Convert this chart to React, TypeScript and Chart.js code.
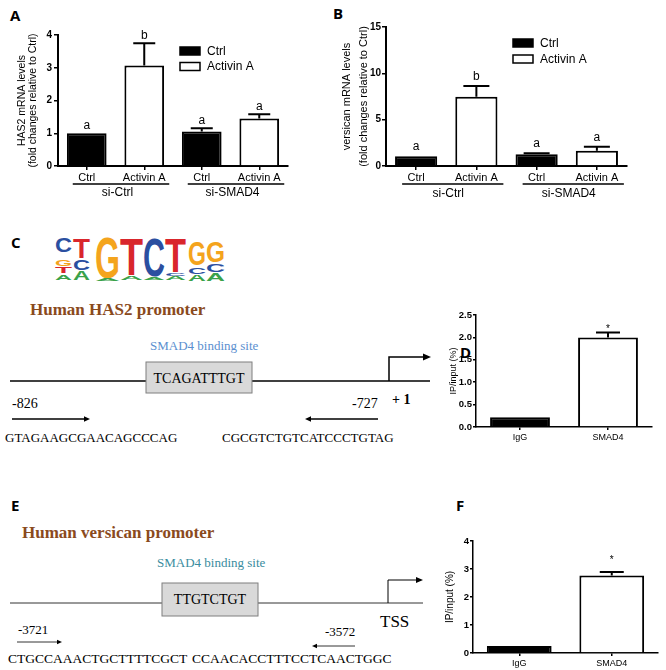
import React, { useEffect, useRef } from 'react';
import { Chart, registerables } from 'chart.js';

Chart.register(...registerables);

const SANS = '"Liberation Sans", Arial, Helvetica, sans-serif';
const SERIF = '"Liberation Serif", "Times New Roman", serif';
const HEAD = '"Open Sans", "Liberation Sans", Arial, sans-serif';

// ---------- Panels A / B : qPCR ----------
const treatmentLabels = ['Ctrl', 'Activin A', 'Ctrl', 'Activin A'];
const sirnaGroups = ['si-Ctrl', 'si-SMAD4'];
const seriesNames = ['Ctrl', 'Activin A'];

const has2Ctrl = [1.0, null, 1.05, null];
const has2Activin = [null, 3.07, null, 1.45];
const has2Err = [0, 0.68, 0.1, 0.13];
const has2Letters = ['a', 'b', 'a', 'a'];
const has2Ticks = [0, 1, 2, 3, 4];

const versicanCtrl = [1.05, null, 1.26, null];
const versicanActivin = [null, 7.48, null, 1.65];
const versicanErr = [0, 1.15, 0.11, 0.44];
const versicanLetters = ['a', 'b', 'a', 'a'];
const versicanTicks = [0, 5, 10, 15];

// ---------- Panels D / F : ChIP ----------
const chipLabels = ['IgG', 'SMAD4'];
const has2Chip = [0.22, 2.0];
const has2ChipErr = [0, 0.11];
const has2ChipMarks = ['', '*'];
const has2ChipTicks = [0, 0.5, 1.0, 1.5, 2.0, 2.5];

const versicanChip = [0.25, 2.77];
const versicanChipErr = [0, 0.12];
const versicanChipMarks = ['', '*'];
const versicanChipTicks = [0, 1, 2, 3, 4];

type DS = { label: string; data: (number | null)[]; fill: string | string[] };
type Panel = {
  left: number; top: number; width: number; height: number;
  area: { left: number; top: number; right: number; bottom: number };
  labels: string[];
  datasets: DS[];
  errors: number[]; marks: string[];
  ticks: number[]; decimals: number;
  yTitle: string[]; titleSize: number; titleLine: number; titlePad: number;
  yTickFont: number; xTickFont: number; tickLen: number; xTickPad: number; yTickPad: number;
  barPct: number; capWidth: number; markFont: number; markGap: number; barBorder: number; axisWidth: number;
  legend?: { x: number; y: number; dy: number; font: number };
  groups?: { names: string[]; lineY: number; textY: number; from: number; to: number; font: number };
};

const panelA: Panel = {
  left: 0, top: 0, width: 333, height: 200,
  area: { left: 58, top: 35, right: 288, bottom: 166 },
  labels: treatmentLabels,
  datasets: [
    { label: seriesNames[0], data: has2Ctrl, fill: '#000000' },
    { label: seriesNames[1], data: has2Activin, fill: '#ffffff' },
  ],
  errors: has2Err, marks: has2Letters, ticks: has2Ticks, decimals: 0,
  yTitle: ['HAS2 mRNA levels', '(fold changes relative to Ctrl)'], titleSize: 10.5, titleLine: 1.0, titlePad: 17,
  yTickFont: 10, xTickFont: 11, tickLen: 4, xTickPad: 1, yTickPad: 2,
  barPct: 0.69, capWidth: 22, markFont: 12, markGap: 4, barBorder: 2, axisWidth: 2,
  legend: { x: 180, y: 47, dy: 15.5, font: 12 },
  groups: { names: sirnaGroups, lineY: 184, textY: 193, from: -14, to: 25, font: 12 },
};

const panelB: Panel = {
  left: 333, top: 0, width: 333, height: 200,
  area: { left: 53, top: 27, right: 294, bottom: 166 },
  labels: treatmentLabels,
  datasets: [
    { label: seriesNames[0], data: versicanCtrl, fill: '#000000' },
    { label: seriesNames[1], data: versicanActivin, fill: '#ffffff' },
  ],
  errors: versicanErr, marks: versicanLetters, ticks: versicanTicks, decimals: 0,
  yTitle: ['versican mRNA levels', '(fold changes relative to Ctrl)'], titleSize: 11, titleLine: 1.5, titlePad: 6,
  yTickFont: 10, xTickFont: 11, tickLen: 4, xTickPad: 1, yTickPad: 1,
  barPct: 0.7, capWidth: 26, markFont: 12, markGap: 6, barBorder: 2, axisWidth: 2,
  legend: { x: 180, y: 39, dy: 16, font: 12 },
  groups: { names: sirnaGroups, lineY: 184, textY: 194, from: -14, to: 27, font: 12 },
};

const panelD: Panel = {
  left: 440, top: 290, width: 226, height: 160,
  area: { left: 36, top: 25, right: 212, bottom: 137 },
  labels: chipLabels,
  datasets: [{ label: 'IP/input', data: has2Chip, fill: ['#000000', '#ffffff'] }],
  errors: has2ChipErr, marks: has2ChipMarks, ticks: has2ChipTicks, decimals: 1,
  yTitle: ['IP/input (%)'], titleSize: 9, titleLine: 1.2, titlePad: 8,
  yTickFont: 9.5, xTickFont: 9, tickLen: 3, xTickPad: 2, yTickPad: 1,
  barPct: 0.68, capWidth: 24, markFont: 10, markGap: 0, barBorder: 2, axisWidth: 1.5,
};

const panelF: Panel = {
  left: 440, top: 500, width: 226, height: 170,
  area: { left: 33, top: 41, right: 218, bottom: 153 },
  labels: chipLabels,
  datasets: [{ label: 'IP/input', data: versicanChip, fill: ['#000000', '#ffffff'] }],
  errors: versicanChipErr, marks: versicanChipMarks, ticks: versicanChipTicks, decimals: 0,
  yTitle: ['IP/input (%)'], titleSize: 10, titleLine: 1.2, titlePad: 4,
  yTickFont: 9.5, xTickFont: 9, tickLen: 3, xTickPad: 2, yTickPad: 1,
  barPct: 0.7, capWidth: 24, markFont: 10, markGap: 9, barBorder: 2, axisWidth: 1.5,
};

function buildChart(canvas: HTMLCanvasElement, p: Panel) {
  const valueAt = (i: number) => {
    for (const d of p.datasets) if (d.data[i] != null) return d.data[i] as number;
    return 0;
  };
  const extras = {
    id: 'panelExtras',
    afterDraw(chart: any) {
      const { ctx } = chart;
      const x = chart.scales.x;
      const y = chart.scales.y;
      ctx.save();
      ctx.strokeStyle = '#000';
      ctx.fillStyle = '#000';
      p.labels.forEach((_, i) => {
        const v = valueAt(i);
        const e = p.errors[i] || 0;
        const cx = x.getPixelForValue(i);
        const yv = y.getPixelForValue(v);
        const ye = y.getPixelForValue(v + e);
        if (e > 0) {
          ctx.lineWidth = 2;
          ctx.beginPath();
          ctx.moveTo(cx, yv);
          ctx.lineTo(cx, ye);
          ctx.moveTo(cx - p.capWidth / 2, ye);
          ctx.lineTo(cx + p.capWidth / 2, ye);
          ctx.stroke();
        }
        const m = p.marks[i];
        if (m) {
          ctx.font = `${p.markFont}px ${SANS}`;
          ctx.textAlign = 'center';
          ctx.textBaseline = 'alphabetic';
          ctx.fillText(m, cx, ye - p.markGap);
        }
      });
      if (p.groups) {
        const g = p.groups;
        g.names.forEach((name, k) => {
          const c0 = x.getPixelForValue(2 * k);
          const c1 = x.getPixelForValue(2 * k + 1);
          ctx.lineWidth = 1.5;
          ctx.beginPath();
          ctx.moveTo(c0 + g.from, g.lineY);
          ctx.lineTo(c1 + g.to, g.lineY);
          ctx.stroke();
          ctx.font = `${g.font}px ${SANS}`;
          ctx.textAlign = 'center';
          ctx.textBaseline = 'middle';
          ctx.fillText(name, (c0 + c1) / 2 + 2, g.textY);
        });
      }
      if (p.legend) {
        const L = p.legend;
        p.datasets.forEach((d, k) => {
          const yy = L.y + k * L.dy;
          ctx.fillStyle = d.fill as string;
          ctx.fillRect(L.x, yy, 20, 8);
          ctx.lineWidth = 1.5;
          ctx.strokeStyle = '#000';
          ctx.strokeRect(L.x, yy, 20, 8);
          ctx.fillStyle = '#000';
          ctx.font = `${L.font}px ${SANS}`;
          ctx.textAlign = 'left';
          ctx.textBaseline = 'middle';
          ctx.fillText(d.label, L.x + 27, yy + 4.5);
        });
      }
      ctx.restore();
    },
  };

  const xHeight = p.height - p.area.bottom;
  return new Chart(canvas, {
    type: 'bar',
    data: {
      labels: p.labels,
      datasets: p.datasets.map((d) => ({
        label: d.label,
        data: d.data,
        backgroundColor: d.fill,
        borderColor: '#000',
        borderWidth: p.barBorder,
        borderSkipped: 'start',
        grouped: false,
        barPercentage: p.barPct,
        categoryPercentage: 1,
      })) as any,
    },
    options: {
      animation: false,
      responsive: false,
      maintainAspectRatio: false,
      devicePixelRatio: 1,
      events: [],
      layout: {
        padding: { left: 0, top: p.area.top, right: p.width - p.area.right, bottom: 0 },
      },
      plugins: { legend: { display: false }, tooltip: { enabled: false }, title: { display: false } },
      scales: {
        x: {
          type: 'category',
          offset: true,
          grid: {
            display: true, offset: false, drawOnChartArea: false, drawTicks: true,
            tickLength: p.tickLen, color: '#000', lineWidth: 1.5,
          },
          border: { display: true, color: '#000', width: p.axisWidth },
          ticks: {
            color: '#000', padding: p.xTickPad, maxRotation: 0, autoSkip: false,
            font: { family: SANS, size: p.xTickFont },
          },
          afterFit: (s: any) => { s.height = xHeight; },
        },
        y: {
          type: 'linear',
          min: p.ticks[0],
          max: p.ticks[p.ticks.length - 1],
          grid: {
            display: true, drawOnChartArea: false, drawTicks: true,
            tickLength: p.tickLen, color: '#000', lineWidth: 1.5,
          },
          border: { display: true, color: '#000', width: p.axisWidth },
          ticks: {
            color: '#000', padding: p.yTickPad,
            font: { family: SANS, size: p.yTickFont, weight: 'bold' },
            callback: (v: any) => Number(v).toFixed(p.decimals),
          },
          afterBuildTicks: (s: any) => { s.ticks = p.ticks.map((v) => ({ value: v })); },
          title: {
            display: true, text: p.yTitle, color: '#000',
            font: { family: SANS, size: p.titleSize, lineHeight: p.titleLine },
            padding: { top: p.titlePad, bottom: 0 },
          },
          afterFit: (s: any) => { s.width = p.area.left; },
        },
      },
    } as any,
    plugins: [extras],
  });
}

function BarPanel({ panel }: { panel: Panel }) {
  const ref = useRef<HTMLCanvasElement | null>(null);
  useEffect(() => {
    const chart = buildChart(ref.current as HTMLCanvasElement, panel);
    return () => chart.destroy();
  }, [panel]);
  return (
    <canvas
      ref={ref}
      width={panel.width}
      height={panel.height}
      style={{ position: 'absolute', left: panel.left, top: panel.top, width: panel.width, height: panel.height, display: 'block' }}
    />
  );
}

// ---------- Sequence logo (panel C) ----------
const LOGO_COLORS: Record<string, string> = { A: '#3aa24a', C: '#2b4fa0', G: '#f4a41d', T: '#d9262c' };
const logoColumns: { x: number; w: number; stack: [string, number, number][] }[] = [
  { x: 55, w: 17, stack: [['C', 238, 252], ['G', 259, 266], ['T', 266, 273], ['A', 275, 280]] },
  { x: 73, w: 17, stack: [['T', 238, 258], ['C', 259, 270], ['A', 271, 280]] },
  { x: 95, w: 25, stack: [['G', 237, 278], ['A', 278, 281]] },
  { x: 120, w: 23, stack: [['T', 238, 275], ['A', 276, 280]] },
  { x: 143, w: 22, stack: [['C', 238, 276], ['A', 277, 280]] },
  { x: 165, w: 21, stack: [['T', 238, 272], ['C', 273, 276], ['A', 276, 280]] },
  { x: 188, w: 18, stack: [['G', 241, 265], ['C', 267, 274], ['A', 275, 281]] },
  { x: 206, w: 19, stack: [['G', 241, 262], ['C', 264, 272], ['A', 273, 281]] },
];

function Arrow({ x1, x2, y, w = 1.5, head = 6 }: { x1: number; x2: number; y: number; w?: number; head?: number }) {
  const dir = x2 > x1 ? 1 : -1;
  const hx = x2 - dir * head;
  return (
    <g>
      <line x1={x1} y1={y} x2={hx} y2={y} stroke="#000" strokeWidth={w} />
      <polygon points={`${x2},${y} ${hx},${y - head * 0.45} ${hx},${y + head * 0.45}`} fill="#000" />
    </g>
  );
}

function Diagrams() {
  const brown = '#8a4a1d';
  return (
    <svg width={666} height={670} style={{ position: 'absolute', left: 0, top: 0 }}>
      {/* panel letters */}
      <g fontFamily={HEAD} fontWeight={700} fontSize={15} fill="#000">
        <text x={10} y={21}>A</text>
        <text x={333} y={19}>B</text>
        <text x={11} y={248}>C</text>
        <text x={460} y={358}>D</text>
        <text x={11} y={511}>E</text>
        <text x={456} y={511}>F</text>
      </g>

      {/* sequence logo */}
      {logoColumns.map((col, ci) =>
        col.stack.map(([ch, t, b], k) => (
          <text
            key={`${ci}-${k}`}
            transform={`translate(${col.x},${b}) scale(${col.w / 100},${(b - t) / 72})`}
            fontSize={100}
            fontFamily={SANS}
            fontWeight={700}
            textLength={100}
            lengthAdjust="spacingAndGlyphs"
            fill={LOGO_COLORS[ch]}
          >
            {ch}
          </text>
        ))
      )}

      {/* panel C: HAS2 promoter */}
      <text x={30} y={315} fontFamily={SERIF} fontWeight={700} fontSize={17} fill={brown}>Human HAS2 promoter</text>
      <text x={150} y={350} fontFamily={SERIF} fontSize={13} fill="#5b8fcf">SMAD4 binding site</text>
      <line x1={10} y1={381} x2={430} y2={381} stroke="#000" strokeWidth={1.5} />
      <rect x={146} y={362} width={106} height={31} fill="#d9d9d9" stroke="#7f7f7f" strokeWidth={1} />
      <text x={199} y={383} textAnchor="middle" fontFamily={SERIF} fontSize={14} fill="#000">TCAGATTTGT</text>
      <path d="M389 381 V357 H424" fill="none" stroke="#000" strokeWidth={1.5} />
      <polygon points="431,357 423,353.5 423,360.5" fill="#000" />
      <text x={12} y={408} fontFamily={SERIF} fontSize={14} fill="#000">-826</text>
      <text x={352} y={408} fontFamily={SERIF} fontSize={14} fill="#000">-727</text>
      <text x={392} y={404} fontFamily={SERIF} fontWeight={700} fontSize={14} fill="#000">+ 1</text>
      <Arrow x1={12} x2={90} y={419} />
      <Arrow x1={378} x2={305} y={419} />
      <text x={5} y={442} fontFamily={SERIF} fontSize={13} fill="#000">GTAGAAGCGAACAGCCCAG</text>
      <text x={222} y={442} fontFamily={SERIF} fontSize={13} fill="#000">CGCGTCTGTCATCCCTGTAG</text>

      {/* panel E: versican promoter */}
      <text x={22} y={538} fontFamily={SERIF} fontWeight={700} fontSize={17} fill={brown}>Human versican promoter</text>
      <text x={157} y={567} fontFamily={SERIF} fontSize={13} fill="#3a8c9e">SMAD4 binding site</text>
      <line x1={10} y1={603} x2={423} y2={603} stroke="#333" strokeWidth={1} />
      <rect x={162} y={583} width={96} height={33} fill="#d9d9d9" stroke="#7f7f7f" strokeWidth={1} />
      <text x={210} y={604} textAnchor="middle" fontFamily={SERIF} fontSize={14} fill="#000">TTGTCTGT</text>
      <path d="M388 603 V580 H417" fill="none" stroke="#000" strokeWidth={1} />
      <polygon points="423,580 416,577 416,583" fill="#000" />
      <text x={380} y={627} fontFamily={SERIF} fontSize={17} fill="#000">TSS</text>
      <text x={18} y={634} fontFamily={SERIF} fontSize={13} fill="#000">-3721</text>
      <text x={325} y={636} fontFamily={SERIF} fontSize={13} fill="#000">-3572</text>
      <Arrow x1={17} x2={62} y={642} w={0.8} head={5} />
      <Arrow x1={355} x2={312} y={646} w={0.8} head={5} />
      <text x={8} y={663} fontFamily={SERIF} fontSize={13.5} fill="#000">CTGCCAAACTGCTTTTCGCT</text>
      <text x={192} y={663} fontFamily={SERIF} fontSize={13.5} fill="#000">CCAACACCTTTCCTCAACTGGC</text>
    </svg>
  );
}

export default function App() {
  return (
    <div style={{ position: 'absolute', left: 0, top: 0, width: 666, height: 670, background: '#fff', overflow: 'hidden' }}>
      <Diagrams />
      <BarPanel panel={panelA} />
      <BarPanel panel={panelB} />
      <BarPanel panel={panelD} />
      <BarPanel panel={panelF} />
    </div>
  );
}
